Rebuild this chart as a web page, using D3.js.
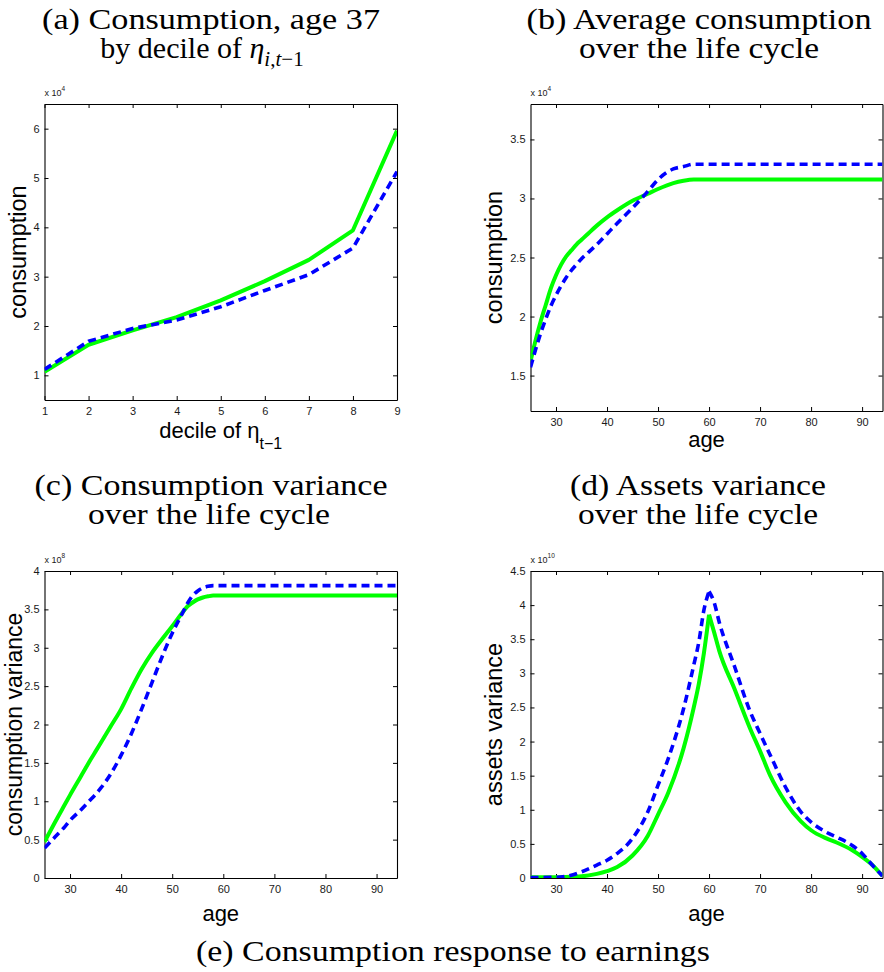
<!DOCTYPE html>
<html><head><meta charset="utf-8">
<script src="https://cdn.jsdelivr.net/npm/d3@7"></script>
<style>body{margin:0;background:#fff}</style>
</head><body>
<svg id="fig" width="884" height="972" xmlns="http://www.w3.org/2000/svg"></svg>
<script>
// ---------- data ----------
// (a) consumption at age 37 by decile of eta (x 10^4)
const decileX     = [1, 2, 3, 4, 5, 6, 7, 8, 9];
const decileGreen = [1.07, 1.62, 1.91, 2.18, 2.52, 2.91, 3.34, 3.94, 5.96];
const decileBlue  = [1.12, 1.69, 1.95, 2.12, 2.39, 2.72, 3.04, 3.58, 5.13];

// (b) average consumption over the life cycle (x 10^4)
const agesB  = [25, 26, 27, 28, 29, 30, 31, 32, 33, 34, 35, 36, 38, 40, 42, 45, 48, 50, 53, 55, 57, 58, 60, 65, 70, 80, 90, 94];
const greenB = [1.62, 1.80, 1.96, 2.10, 2.24, 2.35, 2.44, 2.51, 2.56, 2.61, 2.65, 2.69, 2.77, 2.84, 2.90, 2.98, 3.04, 3.08, 3.13, 3.15, 3.16, 3.16, 3.16, 3.16, 3.16, 3.16, 3.16, 3.16];
const blueB  = [1.57, 1.72, 1.86, 1.98, 2.09, 2.18, 2.26, 2.33, 2.39, 2.44, 2.49, 2.53, 2.61, 2.70, 2.79, 2.92, 3.06, 3.16, 3.25, 3.27, 3.29, 3.29, 3.29, 3.29, 3.29, 3.29, 3.29, 3.29];

// (c) consumption variance over the life cycle (x 10^8)
const agesC  = [25, 27, 29, 30, 32, 34, 35, 36, 38, 40, 42, 44, 46, 48, 50, 52, 53, 54, 55, 56, 57, 58, 60, 70, 80, 94];
const greenC = [0.47, 0.72, 0.96, 1.08, 1.31, 1.54, 1.65, 1.76, 1.98, 2.20, 2.47, 2.72, 2.93, 3.11, 3.28, 3.46, 3.54, 3.59, 3.63, 3.655, 3.67, 3.68, 3.68, 3.68, 3.68, 3.68];
const blueC  = [0.39, 0.53, 0.67, 0.75, 0.88, 1.02, 1.09, 1.17, 1.36, 1.60, 1.88, 2.20, 2.54, 2.88, 3.19, 3.45, 3.58, 3.68, 3.74, 3.78, 3.80, 3.81, 3.81, 3.81, 3.81, 3.81];

// (d) assets variance over the life cycle (x 10^10)
const agesD  = [25, 30, 33, 35, 38, 40, 42, 45, 48, 50, 52, 55, 57, 58, 59, 60, 61, 62, 65, 68, 70, 72, 75, 78, 80, 83, 85, 88, 90, 92, 94];
const greenD = [0.01, 0.01, 0.02, 0.025, 0.06, 0.10, 0.16, 0.33, 0.62, 0.93, 1.25, 1.90, 2.50, 2.85, 3.30, 3.86, 3.60, 3.33, 2.77, 2.20, 1.86, 1.50, 1.11, 0.83, 0.70, 0.58, 0.52, 0.41, 0.31, 0.19, 0.03];
const blueD  = [0.005, 0.01, 0.04, 0.09, 0.19, 0.26, 0.36, 0.58, 0.97, 1.36, 1.75, 2.48, 3.12, 3.46, 3.93, 4.20, 4.04, 3.75, 3.10, 2.45, 2.12, 1.80, 1.33, 0.97, 0.82, 0.67, 0.60, 0.48, 0.36, 0.19, 0.03];

// tick values
const ticksAX = [1, 2, 3, 4, 5, 6, 7, 8, 9];
const ticksAY = [1, 2, 3, 4, 5, 6];
const ticksAge = [30, 40, 50, 60, 70, 80, 90];
const ticksBY = [1.5, 2, 2.5, 3, 3.5];
const ticksCY = [0, 0.5, 1, 1.5, 2, 2.5, 3, 3.5, 4];
const ticksDY = [0, 0.5, 1, 1.5, 2, 2.5, 3, 3.5, 4, 4.5];

// ---------- drawing ----------
const svg = d3.select("#fig");
const SANS = "'Liberation Sans', Arial, Helvetica, sans-serif";
const SERIF = "'Liberation Serif', 'Times New Roman', serif";
const GREEN = "#00ff00", BLUE = "#0000ff";
let clipId = 0;

function zip(xs, ys) { return xs.map((x, i) => ({x: x, y: ys[i]})); }

function panel(cfg) {
  const x = d3.scaleLinear().domain(cfg.xDomain).range([cfg.left, cfg.right]);
  const y = d3.scaleLinear().domain(cfg.yDomain).range([cfg.bottom, cfg.top]);
  const g = svg.append("g");
  const id = "clip" + (clipId++);
  g.append("clipPath").attr("id", id).append("rect")
    .attr("x", cfg.left).attr("y", cfg.top)
    .attr("width", cfg.right - cfg.left).attr("height", cfg.bottom - cfg.top);

  const fmt = d => String(d);
  const styleAxis = sel => {
    sel.select(".domain").attr("stroke", "#000").attr("stroke-width", 1.1);
    sel.selectAll(".tick line").attr("stroke", "#000").attr("stroke-width", 1);
    sel.selectAll(".tick text").attr("fill", "#1a1a1a").style("font-family", SANS).style("font-size", "11px");
  };
  g.append("g").attr("transform", `translate(0,${cfg.bottom})`)
    .call(d3.axisBottom(x).tickValues(cfg.xTicks).tickFormat(fmt).tickSizeInner(-4).tickSizeOuter(0).tickPadding(7))
    .call(styleAxis);
  g.append("g").attr("transform", `translate(${cfg.left},0)`)
    .call(d3.axisLeft(y).tickValues(cfg.yTicks).tickFormat(fmt).tickSizeInner(-4).tickSizeOuter(0).tickPadding(5))
    .call(styleAxis);
  g.append("g").attr("transform", `translate(0,${cfg.top})`)
    .call(d3.axisTop(x).tickValues(cfg.xTicks).tickFormat("").tickSizeInner(-4).tickSizeOuter(0))
    .call(styleAxis);
  g.append("g").attr("transform", `translate(${cfg.right},0)`)
    .call(d3.axisRight(y).tickValues(cfg.yTicks).tickFormat("").tickSizeInner(-4).tickSizeOuter(0))
    .call(styleAxis);

  // exponent label
  const ex = g.append("text").attr("x", cfg.left).attr("y", cfg.top - 8)
    .style("font-family", SANS).style("font-size", "9px").attr("fill", "#1a1a1a");
  ex.append("tspan").text("x 10");
  ex.append("tspan").attr("dy", -5).style("font-size", "6.5px").text(cfg.exp);

  const lines = g.append("g").attr("clip-path", `url(#${id})`);
  cfg.series.forEach(s => {
    const data = zip(s.x, s.y);
    const gen = d3.line().x(d => x(d.x)).y(d => y(d.y)).curve(cfg.curve);
    let parts = [data];
    if (cfg.splitAtPeak) {
      const pk = d3.maxIndex(data, d => d.y);
      parts = [data.slice(0, pk + 1), data.slice(pk)];
    }
    parts.forEach(p => {
      lines.append("path").attr("d", gen(p)).attr("fill", "none")
        .attr("stroke", s.color).attr("stroke-width", s.dash ? 3.6 : 4)
        .attr("stroke-dasharray", s.dash ? "8,5" : null)
        .attr("stroke-linejoin", "round");
    });
  });

  // y label
  g.append("text").attr("transform", `translate(${cfg.ylabelX},${(cfg.top + cfg.bottom) / 2}) rotate(-90)`)
    .attr("text-anchor", "middle").style("font-family", SANS).style("font-size", cfg.ylabelSize || "23.5px")
    .attr("fill", "#000").text(cfg.ylabel);
  // x label
  const xl = g.append("text").attr("x", (cfg.left + cfg.right) / 2).attr("y", cfg.xlabelY)
    .attr("text-anchor", "middle").style("font-family", SANS).style("font-size", "22px").attr("fill", "#000");
  xl.append("tspan").text(cfg.xlabel);
  if (cfg.xlabelSub) xl.append("tspan").attr("dy", 11).style("font-size", "16px").text(cfg.xlabelSub);
}

function title(cx, y, str, len) {
  const t = svg.append("text").attr("x", cx).attr("y", y).attr("text-anchor", "middle")
    .style("font-family", SERIF).style("font-size", "30px").attr("fill", "#000").text(str);
  if (len) t.attr("textLength", len).attr("lengthAdjust", "spacingAndGlyphs");
  return t;
}

// titles
title(211, 29, "(a) Consumption, age 37", 338);
{
  const t = svg.append("text").attr("x", 202).attr("y", 58).attr("text-anchor", "middle")
    .style("font-family", SERIF).style("font-size", "30px").attr("fill", "#000");
  t.append("tspan").text("by decile of ");
  t.append("tspan").style("font-style", "italic").text("η");
  const sub = t.append("tspan").attr("dy", 8).style("font-size", "21px");
  sub.append("tspan").style("font-style", "italic").text("i");
  sub.append("tspan").text(",");
  sub.append("tspan").style("font-style", "italic").text("t");
  sub.append("tspan").text("−1");
}
title(699, 29, "(b) Average consumption", 345);
title(699, 58, "over the life cycle", 240);
title(211, 495, "(c) Consumption variance", 353);
title(209, 524, "over the life cycle", 242);
title(698, 495, "(d) Assets variance", 256);
title(698, 524, "over the life cycle", 240);
title(453, 961, "(e) Consumption response to earnings", 514);

// panels
panel({left: 44.5, right: 397, top: 104, bottom: 400, xDomain: [1, 9], yDomain: [0.5, 6.5],
  xTicks: ticksAX, yTicks: ticksAY, exp: "4", curve: d3.curveLinear,
  series: [{x: decileX, y: decileGreen, color: GREEN}, {x: decileX, y: decileBlue, color: BLUE, dash: true}],
  ylabel: "consumption", ylabelX: 26, xlabel: "decile of η", xlabelSub: "t−1", xlabelY: 438});

panel({left: 530.5, right: 882.5, top: 104, bottom: 411, xDomain: [25, 94], yDomain: [1.2, 3.8],
  xTicks: ticksAge, yTicks: ticksBY, exp: "4", curve: d3.curveMonotoneX,
  series: [{x: agesB, y: greenB, color: GREEN}, {x: agesB, y: blueB, color: BLUE, dash: true}],
  ylabel: "consumption", ylabelX: 502, xlabel: "age", xlabelY: 447});

panel({left: 44.5, right: 397, top: 571, bottom: 878, xDomain: [25, 94], yDomain: [0, 4],
  xTicks: ticksAge, yTicks: ticksCY, exp: "8", curve: d3.curveMonotoneX,
  series: [{x: agesC, y: greenC, color: GREEN}, {x: agesC, y: blueC, color: BLUE, dash: true}],
  ylabel: "consumption variance", ylabelX: 21.5, ylabelSize: "23px", xlabel: "age", xlabelY: 921});

panel({left: 530.5, right: 882.5, top: 571, bottom: 878, xDomain: [25, 94], yDomain: [0, 4.5],
  xTicks: ticksAge, yTicks: ticksDY, exp: "10", curve: d3.curveMonotoneX, splitAtPeak: true,
  series: [{x: agesD, y: greenD, color: GREEN}, {x: agesD, y: blueD, color: BLUE, dash: true}],
  ylabel: "assets variance", ylabelX: 502, xlabel: "age", xlabelY: 921});
</script>
</body></html>
